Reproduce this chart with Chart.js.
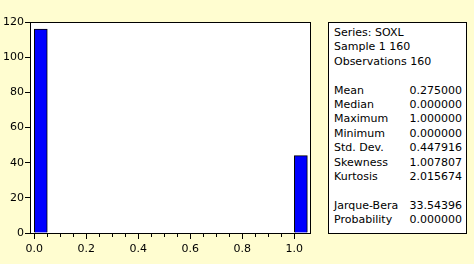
<!DOCTYPE html>
<html><head><meta charset="utf-8">
<script src="https://cdn.jsdelivr.net/npm/chart.js@4/dist/chart.umd.min.js"></script>
<style>
html,body{margin:0;padding:0;background:#FFFDD0;}
#wrap{position:relative;width:474px;height:264px;overflow:hidden;background:#FFFDD0;}
canvas{position:absolute;left:0;top:0;}
#stats{position:absolute;left:328px;top:22px;width:139px;height:212px;box-sizing:border-box;border:1px solid #000;background:#fff;font:11px "DejaVu Sans";color:#000;padding:3px 4px 0 5px;}
.row{display:flex;justify-content:space-between;height:14.4px;line-height:14.4px;white-space:nowrap;}
</style>
</head><body>
<div id="wrap">
<canvas id="c" width="474" height="264"></canvas>
<div id="stats"></div>
</div>
<script>
// ---- data ----
const binStarts = [0.0, 1.0];
const counts = [116, 44];
const binWidth = 0.05;
const yTicks = [0, 20, 40, 60, 80, 100, 120];
const xMajorTicks = [0.0, 0.2, 0.4, 0.6, 0.8, 1.0];
const xMinorStep = 0.05;
const xMinorCount = 21; // 0.00 .. 1.00
const headerLines = ["Series: SOXL", "Sample 1 160", "Observations 160"];
const statLabels = ["Mean", "Median", "Maximum", "Minimum", "Std. Dev.", "Skewness", "Kurtosis"];
const statValues = ["0.275000", "0.000000", "1.000000", "0.000000", "0.447916", "1.007807", "2.015674"];
const testLabels = ["Jarque-Bera", "Probability"];
const testValues = ["33.54396", "0.000000"];

// ---- stats box ----
const st = document.getElementById('stats');
function addRow(l, r) {
  const d = document.createElement('div'); d.className = 'row';
  const a = document.createElement('span'); a.textContent = l;
  const b = document.createElement('span'); b.textContent = r;
  d.appendChild(a); d.appendChild(b); st.appendChild(d);
}
headerLines.forEach(h => addRow(h, ''));
addRow('', '');
statLabels.forEach((l, i) => addRow(l, statValues[i]));
addRow('', '');
testLabels.forEach((l, i) => addRow(l, testValues[i]));

// ---- chart ----
const xTickValues = [];
for (let i = 0; i < xMinorCount; i++) xTickValues.push(+(i * xMinorStep).toFixed(2));
const isMajor = v => xMajorTicks.some(m => Math.abs(m - v) < 1e-9);

const frame = {
  id: 'frame',
  beforeDraw(chart) {
    const a = chart.chartArea, c = chart.ctx;
    c.save(); c.fillStyle = '#fff';
    c.fillRect(a.left, a.top, a.right - a.left, a.bottom - a.top);
    c.restore();
  },
  afterDraw(chart) {
    const a = chart.chartArea, c = chart.ctx, xs = chart.scales.x;
    c.save(); c.strokeStyle = '#000'; c.lineWidth = 1;
    c.strokeRect(a.left + 0.5, a.top + 0.5, a.right - a.left - 1, a.bottom - a.top);
    c.beginPath();
    xTickValues.forEach(v => {
      const px = Math.round(xs.getPixelForValue(v)) + 0.5;
      c.moveTo(px, a.bottom + 1);
      c.lineTo(px, a.bottom + 1 + (isMajor(v) ? 5 : 3));
    });
    c.stroke();
    c.restore();
  }
};

const font = { family: 'DejaVu Sans', size: 11 };
new Chart(document.getElementById('c'), {
  type: 'bar',
  data: {
    datasets: [{
      data: binStarts.map((s, i) => ({ x: s + binWidth / 2, y: counts[i] })),
      backgroundColor: '#0000FF',
      borderColor: '#000',
      borderWidth: 1,
      borderSkipped: 'start',
      categoryPercentage: 1,
      barPercentage: 1
    }]
  },
  options: {
    responsive: false,
    animation: false,
    events: [],
    layout: { padding: { top: 22, right: 163, left: 0, bottom: 0 } },
    plugins: { legend: { display: false }, tooltip: { enabled: false } },
    scales: {
      x: {
        type: 'linear', min: -0.0165, max: 1.064, offset: false,
        afterBuildTicks(s) { s.ticks = xTickValues.map(v => ({ value: v })); },
        afterFit(s) { s.height = 31; },
        grid: { display: false, drawTicks: false },
        border: { display: false },
        ticks: {
          autoSkip: false, maxRotation: 0, minRotation: 0, padding: 10, font, color: '#000',
          callback: v => isMajor(v) ? v.toFixed(1) : ''
        }
      },
      y: {
        min: 0, max: 120,
        afterBuildTicks(s) { s.ticks = yTicks.map(v => ({ value: v })); },
        afterFit(s) { s.width = 30; },
        grid: { drawOnChartArea: false, drawTicks: true, tickLength: 5, color: '#000' },
        border: { display: true, color: '#000' },
        ticks: { padding: 1, font, color: '#000' }
      }
    }
  },
  plugins: [frame]
});
</script>
</body></html>
